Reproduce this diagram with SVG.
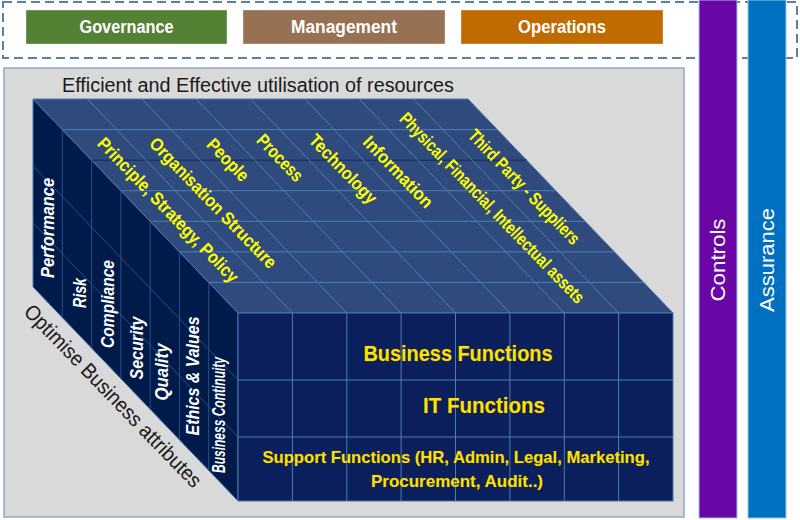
<svg xmlns="http://www.w3.org/2000/svg" width="800" height="520" viewBox="0 0 800 520">
<style>
.btn{stroke:#ffffff;stroke-opacity:0.35;stroke-width:1}
.btxt{font-family:"Liberation Sans",Arial,sans-serif;font-weight:bold;font-size:18px;fill:#ffffff;text-anchor:middle}
.bar{stroke:#9dc3e6;stroke-width:1}
.vtxt{font-family:"Liberation Sans",Arial,sans-serif;font-size:21px;fill:#ffffff;text-anchor:middle}
.grid{stroke:#4f7db5;stroke-width:1;fill:none}
.edge{stroke:#4a78b0;stroke-width:1}
.top{font-family:"Liberation Sans",Arial,sans-serif;font-weight:bold;font-size:18px;fill:#ffff00;text-anchor:middle}
.side{font-family:"Liberation Sans",Arial,sans-serif;font-weight:bold;font-style:italic;font-size:18px;fill:#ffffff;text-anchor:middle}
.front{font-family:"Liberation Sans",Arial,sans-serif;font-weight:bold;fill:#ffe100;text-anchor:middle;stroke:#5a4a00;stroke-width:0.4;paint-order:stroke}
.plain{font-family:"Liberation Sans",Arial,sans-serif;fill:#1a1a1a}
</style>

<!-- top dashed frame -->
<rect x="3" y="2" width="794" height="56" fill="#ffffff" stroke="#5b80a8" stroke-width="2" stroke-dasharray="9,5"/>

<g id="governance">
<rect class="btn" x="26" y="10" width="201" height="34" fill="#548235"/>
<text class="btxt" x="126.5" y="33" textLength="94" lengthAdjust="spacingAndGlyphs">Governance</text>
</g>
<g id="management">
<rect class="btn" x="243" y="10" width="202" height="34" fill="#967153"/>
<text class="btxt" x="344" y="33" textLength="106" lengthAdjust="spacingAndGlyphs">Management</text>
</g>
<g id="operations">
<rect class="btn" x="461" y="10" width="202" height="34" fill="#c06b00"/>
<text class="btxt" x="562" y="33" textLength="88" lengthAdjust="spacingAndGlyphs">Operations</text>
</g>

<g id="controls">
<rect class="bar" x="699" y="0" width="38" height="518" fill="#6a05a6"/>
<text class="vtxt" transform="translate(718,260) rotate(-90)" y="7" textLength="83" lengthAdjust="spacingAndGlyphs">Controls</text>
</g>
<g id="assurance">
<rect class="bar" x="748" y="0" width="38" height="518" fill="#0070c0"/>
<text class="vtxt" transform="translate(767,260) rotate(-90)" y="7" textLength="104" lengthAdjust="spacingAndGlyphs">Assurance</text>
</g>

<!-- main panel -->
<g id="panel">
<rect x="4" y="68" width="680" height="449" fill="#d9d9d9" stroke="#8fa9c8" stroke-width="1.5"/>
<text class="plain" x="62" y="92" font-size="20" textLength="392" lengthAdjust="spacingAndGlyphs">Efficient and Effective utilisation of resources</text>
<text class="plain" font-size="21" text-anchor="middle" transform="translate(113,396) rotate(46)" y="7" textLength="245" lengthAdjust="spacingAndGlyphs">Optimise Business attributes</text>
</g>

<g id="cube">
<!-- left face -->
<polygon points="33,99 238,313 238,501 33,287" fill="#001a4a" class="edge"/>
<!-- top face -->
<polygon points="33,99 468,99 673,313 238,313" fill="#2f4b7d" class="edge"/>
<!-- front face -->
<rect x="238" y="313" width="435" height="188" fill="#0b1f5c" class="edge"/>
</g>

<g id="connectors">
<!-- top face row lines -->
<path class="grid" d="M62.3,129.6H497.3 M91.6,160.1H526.6 M120.9,190.7H555.9 M150.1,221.3H585.1 M179.4,251.9H614.4 M208.7,282.4H643.7"/>
<path d="M91.6,160.1H526.6" stroke="#0e2550" stroke-width="1.2"/>
<!-- top face column lines -->
<path class="grid" d="M87.4,99L292.4,313 M141.8,99L346.8,313 M196.1,99L401.1,313 M250.5,99L455.5,313 M304.9,99L509.9,313 M359.3,99L564.3,313 M413.6,99L618.6,313"/>
<!-- left face verticals -->
<path d="M62.3,129.6V317.6 M91.6,160.1V348.1 M120.9,190.7V378.7 M150.1,221.3V409.3 M179.4,251.9V439.9 M208.7,282.4V470.4" stroke="#2d4f85" stroke-width="1" fill="none"/>
<!-- left face row diagonals -->
<path d="M33,166L238,380 M33,223L238,437" stroke="#2d4f85" stroke-width="1" fill="none"/>
<!-- front face grid -->
<path class="grid" d="M238,380H673 M238,437H673 M292.4,313V501 M346.8,313V501 M401.1,313V501 M455.5,313V501 M509.9,313V501 M564.3,313V501 M618.6,313V501"/>
</g>

<g id="resources">
<text class="top" transform="translate(168,210) rotate(46)" y="6" textLength="194" lengthAdjust="spacingAndGlyphs">Principle, Strategy, Policy</text>
<text class="top" transform="translate(213,203) rotate(46)" y="6" textLength="174" lengthAdjust="spacingAndGlyphs">Organisation Structure</text>
<text class="top" transform="translate(228,160) rotate(46)" y="6" textLength="52" lengthAdjust="spacingAndGlyphs">People</text>
<text class="top" transform="translate(280,158) rotate(46)" y="6" textLength="58" lengthAdjust="spacingAndGlyphs">Process</text>
<text class="top" transform="translate(343,169) rotate(46)" y="6" textLength="89" lengthAdjust="spacingAndGlyphs">Technology</text>
<text class="top" transform="translate(398,172) rotate(46)" y="6" textLength="92" lengthAdjust="spacingAndGlyphs">Information</text>
<text class="top" transform="translate(492,208) rotate(46)" y="6" textLength="257" lengthAdjust="spacingAndGlyphs">Physical, Financial, Intellectual  assets</text>
<text class="top" transform="translate(524,187) rotate(46)" y="6" textLength="152" lengthAdjust="spacingAndGlyphs">Third Party - Suppliers</text>
</g>

<g id="attributes">
<text class="side" transform="translate(48,228) rotate(-90)" y="6" textLength="100" lengthAdjust="spacingAndGlyphs">Performance</text>
<text class="side" transform="translate(80,293) rotate(-90)" y="6" textLength="30" lengthAdjust="spacingAndGlyphs">Risk</text>
<text class="side" transform="translate(108,304) rotate(-90)" y="6" textLength="88" lengthAdjust="spacingAndGlyphs">Compliance</text>
<text class="side" transform="translate(137,348) rotate(-90)" y="6" textLength="63" lengthAdjust="spacingAndGlyphs">Security</text>
<text class="side" transform="translate(162,372) rotate(-90)" y="6" textLength="57" lengthAdjust="spacingAndGlyphs">Quality</text>
<text class="side" transform="translate(193,376) rotate(-90)" y="6" textLength="119" lengthAdjust="spacingAndGlyphs">Ethics &amp; Values</text>
<text class="side" font-size="13" transform="translate(221,415) rotate(-90)" y="4" textLength="116" lengthAdjust="spacingAndGlyphs">Business Continuity</text>
</g>

<g id="functions">
<text class="front" font-size="22" x="458" y="361" textLength="189" lengthAdjust="spacingAndGlyphs">Business Functions</text>
<text class="front" font-size="22" x="484" y="413" textLength="122" lengthAdjust="spacingAndGlyphs">IT Functions</text>
<text class="front" font-size="17" x="456" y="463" textLength="387" lengthAdjust="spacingAndGlyphs">Support Functions (HR, Admin, Legal, Marketing,</text>
<text class="front" font-size="17" x="457" y="487" textLength="172" lengthAdjust="spacingAndGlyphs">Procurement, Audit..)</text>
</g>
</svg>
